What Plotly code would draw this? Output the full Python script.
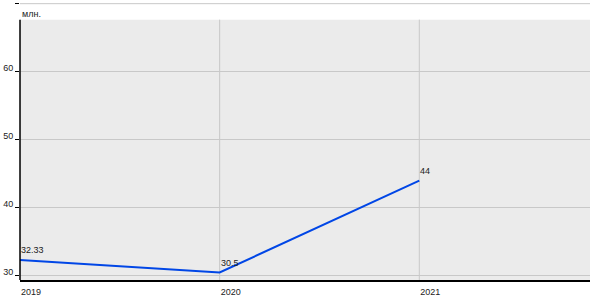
import plotly.graph_objects as go

years = [2019, 2020, 2021]
values = [32.33, 30.5, 44]
labels = ["32.33", "30.5", "44"]
y_ticks = [30, 40, 50, 60, 70]
unit_label = "млн."

FONT = "Liberation Sans, Arial, sans-serif"

fig = go.Figure()
fig.add_trace(go.Scatter(
    x=years, y=values, mode="lines",
    line=dict(color="#0046e6", width=2),
    hoverinfo="skip",
))
for yr, v, lab in zip(years, values, labels):
    fig.add_annotation(x=yr, y=v, text=lab, showarrow=False, xanchor="left",
                       yanchor="bottom", xshift=-1, yshift=3,
                       font=dict(family=FONT, size=9, color="#222222"))

y_lo, y_hi, y_bg_top = 29.4, 70.1, 67.65
x_lo, x_hi = 2019, 2021.855

fig.add_shape(type="rect", xref="paper", yref="y", x0=0, x1=1, y0=y_lo, y1=y_bg_top,
              fillcolor="#ebebeb", line_width=0, layer="below")
for yr in years:
    fig.add_shape(type="line", xref="x", yref="y", x0=yr, x1=yr, y0=y_lo, y1=y_bg_top,
                  line=dict(color="#c8c8c8", width=1), layer="below")
fig.add_shape(type="line", xref="paper", yref="y", x0=0, x1=1,
              y0=y_ticks[-1], y1=y_ticks[-1],
              line=dict(color="#c8c8c8", width=1), layer="below")
fig.add_shape(type="line", xref="paper", yref="y", x0=0, x1=0, y0=y_lo, y1=y_bg_top,
              line=dict(color="black", width=1.5), layer="above")
fig.add_annotation(text=unit_label, xref="paper", yref="paper", x=0, y=1, yshift=-4,
                   xanchor="left", yanchor="top", showarrow=False,
                   font=dict(family=FONT, size=9, color="#222222"))

fig.update_layout(
    width=600, height=300,
    margin=dict(l=20, r=10, t=3, b=20),
    paper_bgcolor="white", plot_bgcolor="white",
    showlegend=False,
    font=dict(family=FONT, size=9, color="#222222"),
    xaxis=dict(range=[x_lo, x_hi], tickvals=years, ticktext=[str(y) for y in years],
               showgrid=False,
               showline=True, linecolor="black", linewidth=1.5,
               ticks="", ticklabelshift=11, ticklabelstandoff=2, zeroline=False),
    yaxis=dict(range=[y_lo, y_hi], tickvals=y_ticks,
               showgrid=True, gridcolor="#c8c8c8", gridwidth=1,
               showline=False, ticks="outside", ticklen=4, tickcolor="black",
               ticklabelshift=-4, zeroline=False),
)

fig.write_html("out.html")
